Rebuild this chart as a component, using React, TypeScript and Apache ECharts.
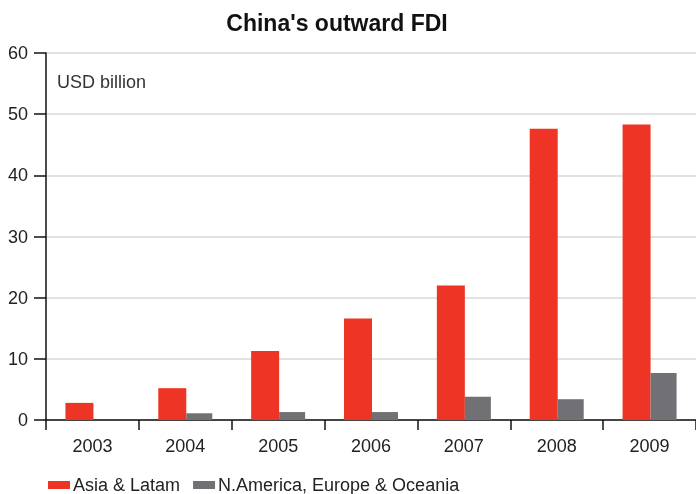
import React, { useEffect, useRef } from "react";
import * as echarts from "echarts";

const years = ["2003", "2004", "2005", "2006", "2007", "2008", "2009"];
const asiaLatam = [2.8, 5.2, 11.3, 16.6, 22.0, 47.6, 48.3];
const naEuOc = [0, 1.1, 1.3, 1.3, 3.8, 3.4, 7.7];
const seriesNames = ["Asia & Latam", "N.America, Europe & Oceania"];

const FONT = "'Liberation Sans', Arial, sans-serif";

export default function App() {
  const ref = useRef<HTMLDivElement>(null);
  useEffect(() => {
    if (!ref.current) return;
    const chart = echarts.init(ref.current, undefined, { renderer: "svg" });
    chart.setOption({
      animation: false,
      textStyle: { fontFamily: FONT },
      title: {
        text: "China's outward FDI",
        left: 332,
        textAlign: "center",
        top: 6,
        textStyle: { fontSize: 23, fontWeight: "bold", color: "#111", fontFamily: FONT },
      },
      graphic: [
        {
          type: "text",
          left: 57,
          top: 73,
          style: { text: "USD billion", fontSize: 18, fill: "#333", fontFamily: FONT },
        },
      ],
      legend: {
        left: 43,
        top: 471,
        itemWidth: 22,
        itemHeight: 8,
        itemGap: 13,
        icon: "rect",
        textStyle: { fontSize: 18, color: "#222", fontFamily: FONT, padding: [0, 0, 0, -2] },
        data: seriesNames,
      },
      grid: { left: 46, right: -3, top: 53, bottom: 74, containLabel: false },
      xAxis: {
        type: "category",
        data: years,
        axisLine: { lineStyle: { color: "#111", width: 1.5 } },
        axisTick: { show: true, length: 10, lineStyle: { color: "#111", width: 1.5 } },
        axisLabel: { fontSize: 18, color: "#222", margin: 17, fontFamily: FONT },
      },
      yAxis: {
        type: "value",
        min: 0,
        max: 60,
        interval: 10,
        axisLine: { show: true, lineStyle: { color: "#111", width: 1.5 } },
        axisTick: { show: true, length: 12, lineStyle: { color: "#111", width: 1.5 } },
        axisLabel: { fontSize: 18, color: "#222", margin: 18, fontFamily: FONT },
        splitLine: { lineStyle: { color: "#d9d9d9", width: 1.5 } },
      },
      series: [
        {
          name: seriesNames[0],
          type: "bar",
          data: asiaLatam,
          barWidth: 28,
          barGap: "0%",
          itemStyle: { color: "#ee3424" },
        },
        {
          name: seriesNames[1],
          type: "bar",
          data: naEuOc,
          barWidth: 26,
          barGap: "0%",
          itemStyle: { color: "#717074" },
        },
      ],
    });
    return () => chart.dispose();
  }, []);
  return (
    <div
      ref={ref}
      style={{ position: "fixed", left: 0, top: 0, width: 696, height: 494 }}
    />
  );
}
